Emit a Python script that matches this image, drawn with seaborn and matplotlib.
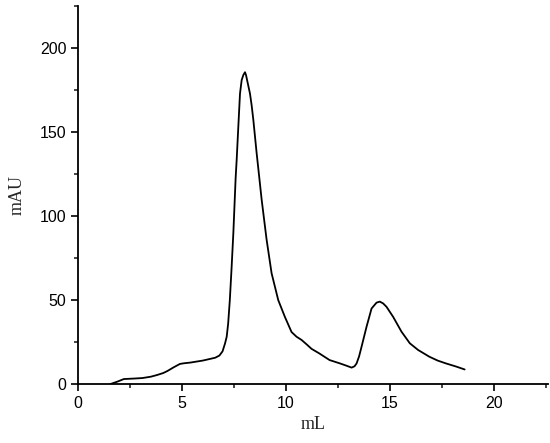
import pandas as pd
import seaborn as sns
import matplotlib.pyplot as plt

ml = [1.55, 1.9, 2.2, 2.7, 3.1, 3.5, 3.8, 4.1, 4.3, 4.6, 4.9, 5.1, 5.4, 6.0, 6.6,
      6.8, 6.95, 7.07, 7.15, 7.22, 7.3, 7.38, 7.47, 7.58, 7.63, 7.71, 7.79, 7.87,
      7.95, 8.03, 8.08, 8.14, 8.2, 8.27, 8.35, 8.43, 8.59, 8.72, 8.83, 9.07, 9.31,
      9.63, 9.95, 10.27, 10.51, 10.75, 11.0, 11.23, 11.6, 12.1, 12.6, 12.9, 13.16,
      13.3, 13.4, 13.52, 13.64, 13.88, 14.12, 14.36, 14.52, 14.68, 14.84, 15.16,
      15.56, 15.96, 16.36, 16.9, 17.3, 17.7, 18.2, 18.6]
mau = [0, 1.5, 3, 3.3, 3.6, 4.4, 5.4, 6.6, 7.8, 10, 12, 12.4, 12.8, 14, 15.7,
       17, 19.5, 24.2, 28.2, 36, 50, 68, 90, 122.7, 133.6, 153.5, 173, 181,
       184, 185.7, 184, 180.5, 177, 173, 166, 157.5, 137.6, 122.7, 110, 86, 66,
       50, 40, 31, 28.2, 26.3, 23.6, 21, 18.3, 14.3, 12.3, 11, 9.8,
       10.6, 12.3, 16.5, 22.3, 34.2, 45, 48.5, 49.1, 48, 46, 40,
       31.2, 24.3, 20.3, 16.3, 14, 12.3, 10.4, 8.7]

tabela = pd.DataFrame({"mL": ml, "mAU": mau})

sns.set_style("ticks")
fig = plt.figure(figsize=(5.5, 4.43), dpi=100)
ax = fig.add_axes([0.142, 0.133, 0.854, 0.853])

sns.lineplot(data=tabela, x="mL", y="mAU", color="black", linewidth=1.3, ax=ax, sort=False)

ax.set_xlim(0, 22.6)
ax.set_ylim(0, 225)
ax.set_xticks([0, 5, 10, 15, 20])
ax.set_xticks([2.5, 7.5, 12.5, 17.5, 22.5], minor=True)
ax.set_yticks([0, 50, 100, 150, 200])
ax.set_yticks([25, 75, 125, 175, 225], minor=True)
ax.tick_params(which="major", length=5, width=1.2, labelsize=11.5, colors="black")
ax.tick_params(which="minor", length=3, width=1.2)
for lab in ax.get_xticklabels() + ax.get_yticklabels():
    lab.set_family("Liberation Sans")
sns.despine(ax=ax)
for s in ["left", "bottom"]:
    ax.spines[s].set_linewidth(1.3)
    ax.spines[s].set_color("black")

ax.set_xlabel("mL", family="Liberation Serif", fontsize=13)
ax.set_ylabel("mAU", family="Liberation Serif", fontsize=13, labelpad=10)

fig.savefig("out.png", dpi=100)
